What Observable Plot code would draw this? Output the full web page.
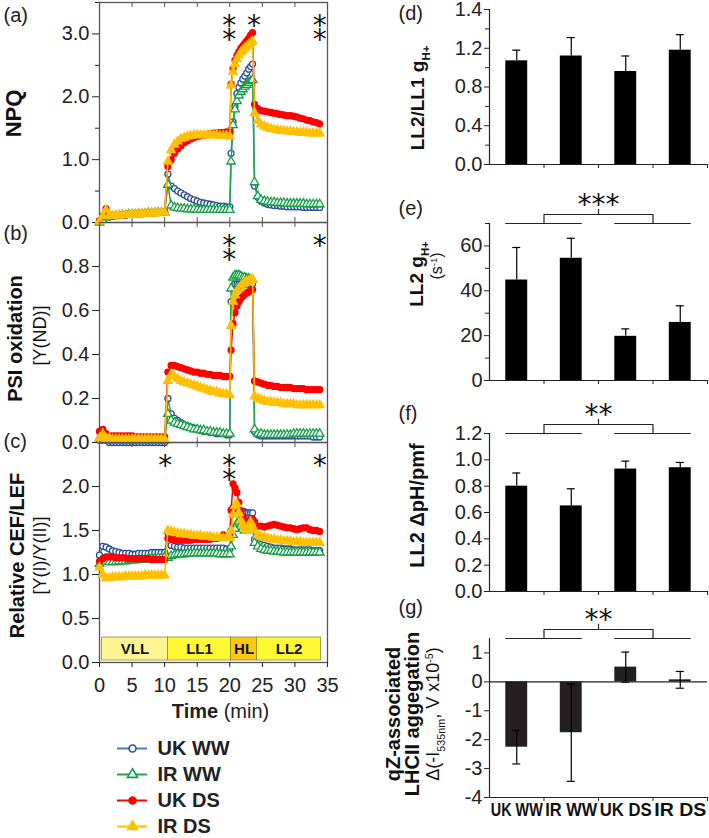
<!DOCTYPE html>
<html><head><meta charset="utf-8">
<script src="https://cdn.jsdelivr.net/npm/d3@7"></script>
<script src="https://cdn.jsdelivr.net/npm/@observablehq/plot@0.6"></script>
<style>
body{margin:0;background:#fff;}
#fig{position:relative;width:709px;height:838px;overflow:hidden;background:#fff;}
</style></head><body><div id="fig"></div>
<script>
// ---------------- DATA ----------------
const series = ["UK WW", "IR WW", "UK DS", "IR DS"];
const groups = ["UK WW", "IR WW", "UK DS", "IR DS"];
const xTicks = [0, 5, 10, 15, 20, 25, 30, 35];
const time = [
  0,0.5,1,1.5,2,2.5,3,3.5,4,4.5,5,5.5,6,6.5,7,7.5,8,8.5,9,9.5,10,
  10.5,11,11.5,12,12.5,13,13.5,14,14.5,15,15.5,16,16.5,17,17.5,18,18.5,19,19.5,20,
  20.2,20.5,20.8,21.1,21.4,21.7,22,22.3,22.6,22.9,23.2,23.5,
  23.8,24.3,24.8,25.3,25.8,26.3,26.8,27.3,27.8,28.3,28.8,29.3,29.8,30.3,30.8,31.3,31.8,32.3,32.8,33.3,33.8
];
const phaseNames = ["VLL", "LL1", "HL", "LL2"];
const phaseStart = [0.4, 10.5, 20.2, 24.2];
const phaseEnd = [10.5, 20.2, 24.2, 34.0];

// (a) NPQ
const npqUKWW = [0.02,0.06,0.10,0.09,0.10,0.11,0.11,0.12,0.12,0.13,0.13,0.14,0.14,0.14,0.15,0.15,0.15,0.16,0.16,0.16,0.17,
  0.77,0.58,0.54,0.50,0.47,0.44,0.41,0.38,0.36,0.34,0.32,0.31,0.30,0.29,0.28,0.27,0.26,0.26,0.25,0.25,
  1.10,1.60,1.85,2.05,2.15,2.22,2.28,2.33,2.38,2.44,2.48,2.52,
  0.58,0.40,0.34,0.31,0.29,0.28,0.27,0.27,0.26,0.26,0.25,0.25,0.25,0.25,0.25,0.24,0.24,0.24,0.24,0.24,0.24];
const npqIRWW = [0.00,0.04,0.08,0.09,0.10,0.11,0.11,0.12,0.12,0.13,0.13,0.13,0.14,0.14,0.14,0.15,0.15,0.15,0.16,0.16,0.16,
  0.60,0.27,0.24,0.23,0.22,0.22,0.21,0.21,0.21,0.20,0.20,0.20,0.20,0.20,0.20,0.20,0.20,0.20,0.20,0.20,
  0.97,1.55,1.80,1.93,2.02,2.08,2.12,2.16,2.19,2.22,2.25,2.27,
  0.64,0.42,0.36,0.34,0.33,0.32,0.32,0.31,0.31,0.31,0.30,0.30,0.30,0.30,0.30,0.30,0.29,0.29,0.29,0.29,0.29];
const npqUKDS = [0.03,0.10,0.22,0.12,0.10,0.11,0.11,0.12,0.12,0.13,0.13,0.14,0.14,0.14,0.15,0.15,0.15,0.16,0.16,0.16,0.17,
  0.89,1.00,1.10,1.17,1.22,1.27,1.30,1.33,1.35,1.37,1.38,1.39,1.40,1.41,1.42,1.42,1.43,1.43,1.44,1.44,
  2.20,2.45,2.58,2.66,2.72,2.77,2.81,2.85,2.89,2.93,2.98,3.02,
  1.88,1.81,1.78,1.77,1.76,1.75,1.74,1.73,1.72,1.71,1.70,1.70,1.69,1.68,1.66,1.65,1.63,1.62,1.60,1.59,1.57];
const npqIRDS = [0.02,0.10,0.20,0.11,0.10,0.11,0.11,0.12,0.12,0.12,0.13,0.13,0.13,0.14,0.14,0.14,0.15,0.15,0.15,0.16,0.16,
  0.97,1.15,1.24,1.29,1.33,1.35,1.37,1.38,1.39,1.39,1.39,1.39,1.39,1.39,1.39,1.39,1.38,1.38,1.38,1.37,
  2.18,2.40,2.52,2.60,2.66,2.71,2.74,2.77,2.80,2.83,2.86,2.88,
  1.74,1.62,1.56,1.53,1.51,1.49,1.48,1.47,1.46,1.46,1.45,1.45,1.44,1.44,1.43,1.43,1.43,1.42,1.42,1.42,1.42];

// (b) PSI oxidation Y(ND)
const yndUKWW = [0.01,0.01,0.01,0.00,0.00,0.00,0.00,0.00,0.00,0.00,0.00,0.00,0.00,0.00,0.00,0.00,0.00,0.00,0.00,0.00,0.00,
  0.20,0.13,0.11,0.10,0.09,0.08,0.075,0.07,0.065,0.06,0.055,0.05,0.05,0.045,0.045,0.04,0.04,0.04,0.035,0.035,
  0.64,0.71,0.72,0.72,0.72,0.72,0.72,0.72,0.72,0.72,0.72,0.72,
  0.05,0.035,0.03,0.03,0.03,0.03,0.03,0.03,0.03,0.03,0.03,0.03,0.03,0.03,0.03,0.03,0.03,0.03,0.025,0.025,0.025];
const yndIRWW = [0.02,0.02,0.01,0.01,0.01,0.01,0.01,0.01,0.01,0.01,0.01,0.01,0.01,0.01,0.01,0.01,0.01,0.01,0.01,0.01,0.01,
  0.13,0.10,0.09,0.085,0.08,0.075,0.07,0.065,0.06,0.06,0.055,0.055,0.05,0.05,0.045,0.045,0.045,0.04,0.04,0.04,
  0.70,0.75,0.76,0.76,0.76,0.755,0.75,0.75,0.745,0.745,0.74,0.74,
  0.06,0.04,0.04,0.035,0.035,0.035,0.035,0.035,0.035,0.035,0.035,0.035,0.04,0.04,0.04,0.04,0.04,0.04,0.04,0.04,0.04];
const yndUKDS = [0.05,0.06,0.04,0.03,0.03,0.03,0.03,0.03,0.03,0.03,0.03,0.025,0.025,0.025,0.025,0.025,0.025,0.025,0.025,0.025,0.025,
  0.32,0.35,0.35,0.345,0.34,0.335,0.33,0.325,0.32,0.32,0.315,0.315,0.31,0.31,0.305,0.305,0.305,0.30,0.30,0.30,
  0.42,0.54,0.59,0.62,0.64,0.655,0.665,0.675,0.68,0.685,0.69,0.695,
  0.28,0.275,0.27,0.265,0.26,0.26,0.255,0.255,0.25,0.25,0.25,0.25,0.245,0.245,0.245,0.245,0.24,0.24,0.24,0.24,0.24];
const yndIRDS = [0.02,0.04,0.02,0.02,0.015,0.015,0.015,0.015,0.015,0.015,0.015,0.015,0.015,0.015,0.015,0.015,0.015,0.015,0.015,0.015,0.015,
  0.28,0.31,0.30,0.29,0.28,0.275,0.27,0.265,0.26,0.255,0.25,0.245,0.24,0.235,0.23,0.23,0.225,0.22,0.22,0.215,
  0.53,0.64,0.67,0.69,0.70,0.71,0.72,0.725,0.73,0.735,0.74,0.74,
  0.21,0.20,0.195,0.19,0.185,0.185,0.18,0.18,0.18,0.175,0.175,0.175,0.175,0.17,0.17,0.17,0.17,0.17,0.17,0.17,0.17];

// (c) Relative CEF/LEF
const cefUKWW = [1.22,1.32,1.31,1.29,1.27,1.26,1.25,1.24,1.24,1.24,1.23,1.23,1.24,1.24,1.24,1.24,1.25,1.25,1.25,1.25,1.25,
  1.47,1.33,1.32,1.31,1.31,1.30,1.30,1.30,1.30,1.30,1.30,1.30,1.30,1.30,1.30,1.30,1.30,1.30,1.29,1.29,
  1.50,1.76,1.77,1.75,1.73,1.72,1.72,1.71,1.70,1.70,1.70,1.70,
  1.40,1.36,1.34,1.33,1.32,1.31,1.30,1.30,1.30,1.29,1.29,1.29,1.28,1.28,1.28,1.28,1.28,1.28,1.27,1.27,1.27];
const cefIRWW = [1.12,1.16,1.15,1.14,1.14,1.14,1.15,1.15,1.15,1.16,1.16,1.16,1.17,1.17,1.17,1.18,1.18,1.18,1.19,1.19,1.20,
  1.19,1.21,1.22,1.23,1.23,1.23,1.24,1.24,1.24,1.24,1.24,1.24,1.24,1.24,1.24,1.24,1.23,1.23,1.23,1.23,
  1.32,1.45,1.52,1.58,1.60,1.56,1.52,1.50,1.52,1.54,1.56,1.52,
  1.36,1.32,1.29,1.28,1.27,1.27,1.26,1.26,1.26,1.25,1.25,1.25,1.25,1.25,1.25,1.25,1.25,1.25,1.25,1.25,1.25];
const cefUKDS = [1.15,1.18,1.20,1.20,1.20,1.19,1.19,1.19,1.19,1.18,1.18,1.18,1.18,1.18,1.18,1.18,1.17,1.17,1.17,1.17,1.17,
  1.41,1.40,1.40,1.39,1.39,1.39,1.39,1.39,1.40,1.40,1.40,1.40,1.40,1.40,1.41,1.41,1.42,1.45,1.44,1.46,
  1.73,2.03,1.98,1.93,1.82,1.72,1.66,1.62,1.60,1.60,1.62,1.63,
  1.60,1.55,1.55,1.54,1.55,1.56,1.57,1.56,1.55,1.54,1.53,1.53,1.52,1.51,1.52,1.53,1.53,1.51,1.50,1.50,1.49];
const cefIRDS = [1.08,1.00,0.96,0.96,0.97,0.97,0.97,0.97,0.98,0.98,0.98,0.98,0.98,0.98,0.99,0.99,0.99,0.99,0.99,0.99,0.99,
  1.50,1.49,1.48,1.47,1.46,1.46,1.45,1.45,1.44,1.44,1.44,1.43,1.43,1.43,1.42,1.42,1.42,1.41,1.42,1.42,
  1.50,1.68,1.78,1.80,1.70,1.62,1.56,1.52,1.50,1.55,1.60,1.55,
  1.50,1.45,1.43,1.42,1.41,1.40,1.40,1.39,1.39,1.38,1.38,1.38,1.37,1.37,1.37,1.36,1.36,1.36,1.36,1.36,1.36];

const starsA = [{t: 19.9, n: 2}, {t: 23.7, n: 1}, {t: 33.8, n: 2}];
const starsB = [{t: 19.9, n: 2}, {t: 33.8, n: 1}];
const starsC = [{t: 10.1, n: 1}, {t: 19.9, n: 2}, {t: 33.8, n: 1}];

// bar panels
const dVals = [1.07, 1.12, 0.96, 1.18];
const dErr  = [0.11, 0.19, 0.16, 0.16];
const dTicks = [0, 0.4, 0.8, 1.2, 1.6];
const dTickLabels = ["0.0", "0.4", "0.8", "1.2", "1.4"];
const eVals = [44.8, 54.5, 19.7, 25.9];
const eErr  = [14.5, 8.9, 3.3, 7.4];
const eTicks = [0, 20, 40, 60];
const fVals = [0.80, 0.65, 0.93, 0.94];
const fErr  = [0.10, 0.13, 0.06, 0.04];
const fTicks = [0, 0.2, 0.4, 0.6, 0.8, 1.0, 1.2];
const gVals = [-2.26, -1.76, 0.51, 0.07];
const gErr  = [0.58, 1.68, 0.52, 0.29];
const gTicks = [-4, -3, -2, -1, 0, 1];
const sigE = {stars: "***", left: ["UK WW", "IR WW"], right: ["UK DS", "IR DS"]};
const sigF = {stars: "**", left: ["UK WW", "IR WW"], right: ["UK DS", "IR DS"]};
const sigG = {stars: "**", left: ["UK WW", "IR WW"], right: ["UK DS", "IR DS"]};

// ---------------- STYLE ----------------
const FONT = "Arial, 'Liberation Sans', sans-serif";
const STARF = "'DejaVu Sans', sans-serif";
const INK = "#222";
const FRAME = "#555";
const styles = [
  {line: "#4d7fc2", mark: "#2a4f9c", fill: "white", symbol: "circle", r: 3},
  {line: "#1fa64c", mark: "#14a043", fill: "white", symbol: "triangle", r: 3.2},
  {line: "#ff0000", mark: "#ff0000", fill: "#ff0000", symbol: "circle", r: 3},
  {line: "#ffc000", mark: "#ffc000", fill: "#ffc000", symbol: "triangle", r: 3.2}
];
const phaseFill = {VLL: "#fff590", LL1: "#fff835", HL: "#ffca0a", LL2: "#fff835"};

const fig = document.getElementById("fig");

function rich(svg) {
  d3.select(svg).selectAll("text").each(function () {
    const el = this;
    if (el.querySelector("tspan")) return;
    const s = el.textContent;
    if (!/«|_\{|\^\{/.test(s)) return;
    el.textContent = "";
    const re = /«([^»]*)»|_\{([^}]*)\}|\^\{([^}]*)\}|([^«_^]+)/g;
    let m;
    while ((m = re.exec(s))) {
      const ts = d3.select(el).append("tspan");
      if (m[1] != null) ts.text(m[1]).attr("font-weight", "bold");
      else if (m[2] != null) ts.text(m[2]).style("font-size", "0.6em").attr("baseline-shift", "sub");
      else if (m[3] != null) ts.text(m[3]).style("font-size", "0.6em").attr("baseline-shift", "super");
      else ts.text(m[4]);
    }
  });
}
function place(svg, left, top) {
  svg.style.position = "absolute";
  svg.style.left = left + "px";
  svg.style.top = top + "px";
  svg.style.overflow = "visible";
  svg.style.background = "transparent";
  svg.style.maxWidth = "none";
  rich(svg);
  fig.appendChild(svg);
}
const baseStyle = {fontFamily: FONT, fontSize: "20px", color: INK, background: "transparent", overflow: "visible"};
function titleMark(tt) {
  return Plot.text([tt.text], {text: d => d, frameAnchor: "left", textAnchor: "middle", lineAnchor: "middle", rotate: -90,
    dx: tt.dx, dy: tt.dy, fontWeight: tt.bold ? "bold" : "normal", fontSize: tt.size, fill: "#111"});
}

// ---------------- TIME PANELS ----------------
const PW = 340, PH = 220;
const xInner = xTicks.slice(1, -1);
function timePanel(o) {
  const marks = [Plot.frame({stroke: FRAME, strokeWidth: 1.3})];
  marks.push(Plot.ruleX(xInner, {insetBottom: PH - 5, stroke: FRAME}));
  if (!o.bottomAxis) marks.push(Plot.ruleX(xInner, {insetTop: PH - 5, stroke: FRAME}));
  if (o.yMinor) marks.push(Plot.axisY({ticks: o.yMinor, tickSize: 4, tickFormat: () => "", label: null}));
  marks.push(Plot.axisY({ticks: o.yMajor, tickSize: 7, tickPadding: 3, tickFormat: d => d.toFixed(1), fontSize: 20, label: null}));
  if (o.bottomAxis) {
    marks.push(Plot.axisX({ticks: xTicks, tickSize: 5, tickPadding: 10, tickFormat: d => String(d), fontSize: 20, label: null}));
    marks.push(Plot.text(["«Time» (min)"], {text: d => d, frameAnchor: "bottom", lineAnchor: "middle", dx: 7, dy: 49, fontSize: 20}));
  }
  if (o.phases) {
    phaseNames.forEach((p, i) => {
      const d = [{p, a: phaseStart[i], b: phaseEnd[i]}];
      marks.push(Plot.rect(d, {x1: "a", x2: "b", insetTop: PH - 25, insetBottom: 2, fill: phaseFill[p], stroke: "#8f8a3a", strokeWidth: 0.8}));
      marks.push(Plot.text(d, {x: q => (q.a + q.b) / 2, text: "p", frameAnchor: "bottom", lineAnchor: "middle", dy: -13, fontWeight: "bold", fontSize: 15, fill: "#111"}));
    });
  }
  series.forEach((s, k) => {
    const data = time.map((t, i) => ({t, v: o.values[k][i]}));
    const st = styles[k];
    marks.push(Plot.line(data, {x: "t", y: "v", stroke: st.line, strokeWidth: 1.5}));
    marks.push(Plot.dot(data, {x: "t", y: "v", symbol: st.symbol, r: st.r, fill: st.fill, stroke: st.mark, strokeWidth: 1.3}));
  });
  // significance asterisks, stacked vertically
  marks.push(Plot.text(o.stars, {x: "t", text: d => Array(d.n).fill("*").join("\n"), frameAnchor: "top", lineAnchor: "top",
    lineHeight: 0.52, dy: 22, fontFamily: STARF, fontSize: 28, fill: "#111"}));
  marks.push(Plot.text([o.label], {text: d => d, frameAnchor: "top-left", dx: -96, dy: o.labelDy, textAnchor: "start", lineAnchor: "middle", fontSize: 20}));
  o.titles.forEach(tt => marks.push(titleMark(tt)));
  const svg = Plot.plot({
    width: PW, height: PH, marginLeft: 99, marginRight: 13, marginTop: 0, marginBottom: 0,
    x: {domain: [0, 35], axis: null}, y: {domain: o.yDomain, axis: null, label: null},
    style: baseStyle, marks
  });
  place(svg, 0, o.top);
}

timePanel({top: 2, yDomain: [0, 3.5], yMajor: [0, 1, 2, 3], yMinor: [0.5, 1.5, 2.5, 3.5],
  values: [npqUKWW, npqIRWW, npqUKDS, npqIRDS], stars: starsA, label: "(a)", labelDy: 13,
  titles: [{text: "NPQ", dx: -86, dy: 1, bold: true, size: 22}]});
timePanel({top: 222, yDomain: [0, 1.0], yMajor: [0, 0.2, 0.4, 0.6, 0.8],
  values: [yndUKWW, yndIRWW, yndUKDS, yndIRDS], stars: starsB, label: "(b)", labelDy: 11,
  titles: [{text: "PSI oxidation", dx: -84, dy: 6, bold: true, size: 20}, {text: "[Y(ND)]", dx: -59, dy: 3, bold: false, size: 18}]});
timePanel({top: 442, yDomain: [0, 2.5], yMajor: [0, 0.5, 1, 1.5, 2], bottomAxis: true, phases: true,
  values: [cefUKWW, cefIRWW, cefUKDS, cefIRDS], stars: starsC, label: "(c)", labelDy: -1,
  titles: [{text: "Relative CEF/LEF", dx: -82, dy: 3, bold: true, size: 20}, {text: "[Y(I)/Y(II)]", dx: -59, dy: 3, bold: false, size: 18}]});

// ---------------- LEGEND ----------------
{
  const marks = [];
  series.forEach((s, k) => {
    const st = styles[k];
    marks.push(Plot.ruleY([s], {y: d => d, x1: 17, x2: 47, stroke: st.line, strokeWidth: 2}));
    marks.push(Plot.dot([s], {x: 32, y: d => d, symbol: st.symbol, r: st.r + 0.5, fill: st.fill, stroke: st.mark, strokeWidth: 1.6}));
    marks.push(Plot.text([s], {x: 57, y: d => d, text: d => d, textAnchor: "start", fontWeight: "bold", fontSize: 20, fill: INK}));
  });
  const svg = Plot.plot({
    width: 200, height: 96, margin: 0,
    x: {domain: [0, 200], range: [0, 200], axis: null},
    y: {type: "point", domain: series, range: [8, 86], padding: 0, axis: null},
    style: baseStyle, marks
  });
  place(svg, 100, 740);
}

// ---------------- BAR PANELS ----------------
const BW = 319, BL = 390, bInset = 16.3;
const xBounds = [1, 2, 3, 4];
function barPanel(o) {
  const [y0, y1] = o.yDomain;
  const H = o.bottom - o.top;
  const ppu = H / (y1 - y0);
  const rows = groups.map((g, i) => ({g, i, v: o.vals[i], e: o.errs[i]}));
  const marks = [];
  marks.push(Plot.ruleX([0], {stroke: INK, strokeWidth: 1.2}));
  marks.push(Plot.ruleY([y0], {stroke: INK, strokeWidth: 1.2}));
  if (y0 < 0) marks.push(Plot.ruleY([0], {stroke: INK, strokeWidth: 1.2}));
  marks.push(Plot.ruleX(xBounds, {insetTop: H, insetBottom: -4, stroke: INK, strokeWidth: 1}));
  if (o.minor) marks.push(Plot.axisY({ticks: o.minor, tickSize: 4, tickFormat: () => "", label: null}));
  marks.push(Plot.axisY({ticks: o.ticks, tickSize: 5, tickPadding: 2, tickFormat: o.fmt, fontSize: 20, label: null}));
  marks.push(Plot.rect(rows, {x1: "i", x2: d => d.i + 1, y1: () => 0, y2: "v", insetLeft: bInset, insetRight: bInset, fill: o.fill}));
  const lo = o.twoSided ? d => d.v - d.e : d => d.v;
  marks.push(Plot.ruleX(rows, {x: d => d.i + 0.5, y1: lo, y2: d => d.v + d.e, stroke: "#000", strokeWidth: 1.2}));
  marks.push(Plot.ruleY(rows, {y: d => d.v + d.e, x1: d => d.i + 0.5, x2: d => d.i + 0.5, insetLeft: -4, insetRight: -4, stroke: "#000", strokeWidth: 1.2}));
  if (o.twoSided) marks.push(Plot.ruleY(rows, {y: d => d.v - d.e, x1: d => d.i + 0.5, x2: d => d.i + 0.5, insetLeft: -4, insetRight: -4, stroke: "#000", strokeWidth: 1.2}));
  if (o.sig) {
    const la = groups.indexOf(o.sig.left[0]), lb = groups.indexOf(o.sig.left[1]) + 1;
    const ra = groups.indexOf(o.sig.right[0]), rb = groups.indexOf(o.sig.right[1]) + 1;
    const lm = (la + lb) / 2, rm = (ra + rb) / 2, cm = (lm + rm) / 2;
    const b = y1 + 9 / ppu, c = y1 + 14 / ppu;
    marks.push(Plot.ruleY([y1], {x1: la, x2: lb, insetLeft: bInset, insetRight: bInset, stroke: INK, strokeWidth: 1.2}));
    marks.push(Plot.ruleY([y1], {x1: ra, x2: rb, insetLeft: bInset, insetRight: bInset, stroke: INK, strokeWidth: 1.2}));
    marks.push(Plot.line([[lm, y1], [lm, b], [rm, b], [rm, y1]], {stroke: INK, strokeWidth: 1.2}));
    marks.push(Plot.ruleX([cm], {y1: b, y2: c, stroke: INK, strokeWidth: 1.2}));
    marks.push(Plot.text([o.sig.stars], {x: cm, text: d => d, frameAnchor: "top", lineAnchor: "top", dy: -29, fontFamily: STARF, fontSize: 28, fill: "#111"}));
  }
  if (o.xLabels) marks.push(Plot.text(groups, {x: (d, i) => i + 0.5, text: d => d, frameAnchor: "bottom", lineAnchor: "middle", dy: 13, fontWeight: "bold", fontSize: 18, fill: "#111"}));
  marks.push(Plot.text([o.label], {text: d => d, frameAnchor: "top-left", dx: -91, dy: o.labelDy, textAnchor: "start", lineAnchor: "middle", fontSize: 20}));
  o.titles.forEach(tt => marks.push(titleMark(tt)));
  const svg = Plot.plot({
    width: BW, height: H, marginLeft: 99, marginRight: 2, marginTop: 0, marginBottom: 0,
    x: {domain: [0, 4], axis: null}, y: {domain: o.yDomain, axis: null, label: null},
    style: baseStyle, marks
  });
  if (o.xLabels) {
    // condensed category labels, as in the reference
    d3.select(svg).selectAll("text").filter(function () { return groups.includes(this.textContent); })
      .attr("textLength", 52).attr("lengthAdjust", "spacingAndGlyphs");
  }
  place(svg, BL, o.top);
}

barPanel({top: 9, bottom: 164, yDomain: [0, 1.6], ticks: dTicks, minor: [0.2, 0.6, 1.0, 1.4],
  fmt: d => dTickLabels[dTicks.indexOf(d)], vals: dVals, errs: dErr, fill: "#000", label: "(d)", labelDy: 4,
  titles: [{text: "LL2/LL1 g_{H+}", dx: -72, dy: 11, bold: true, size: 19}]});
barPanel({top: 223, bottom: 380, yDomain: [0, 70], ticks: eTicks, minor: [10, 30, 50, 70],
  fmt: d => String(d), vals: eVals, errs: eErr, fill: "#000", label: "(e)", labelDy: -15, sig: sigE,
  titles: [{text: "LL2 g_{H+}", dx: -73, dy: -28, bold: true, size: 19}, {text: "(s^{-1})", dx: -53, dy: -36, bold: false, size: 16}]});
barPanel({top: 433, bottom: 591, yDomain: [0, 1.2], ticks: fTicks,
  fmt: d => d.toFixed(1), vals: fVals, errs: fErr, fill: "#000", label: "(f)", labelDy: -20, sig: sigF,
  titles: [{text: "LL2 ΔpH/pmf", dx: -72, dy: -7, bold: true, size: 20}]});
barPanel({top: 638, bottom: 797, yDomain: [-4, 1.5], ticks: gTicks, twoSided: true, xLabels: true,
  fmt: d => String(d), vals: gVals, errs: gErr, fill: "#231f20", label: "(g)", labelDy: -31, sig: sigG,
  titles: [{text: "qZ-associated", dx: -96, dy: -4, bold: true, size: 20},
           {text: "LHCII aggegation", dx: -77, dy: -4, bold: true, size: 20},
           {text: "Δ(-I_{535nm}, V x10^{-5})", dx: -56, dy: -4, bold: false, size: 18}]});
</script></body></html>
